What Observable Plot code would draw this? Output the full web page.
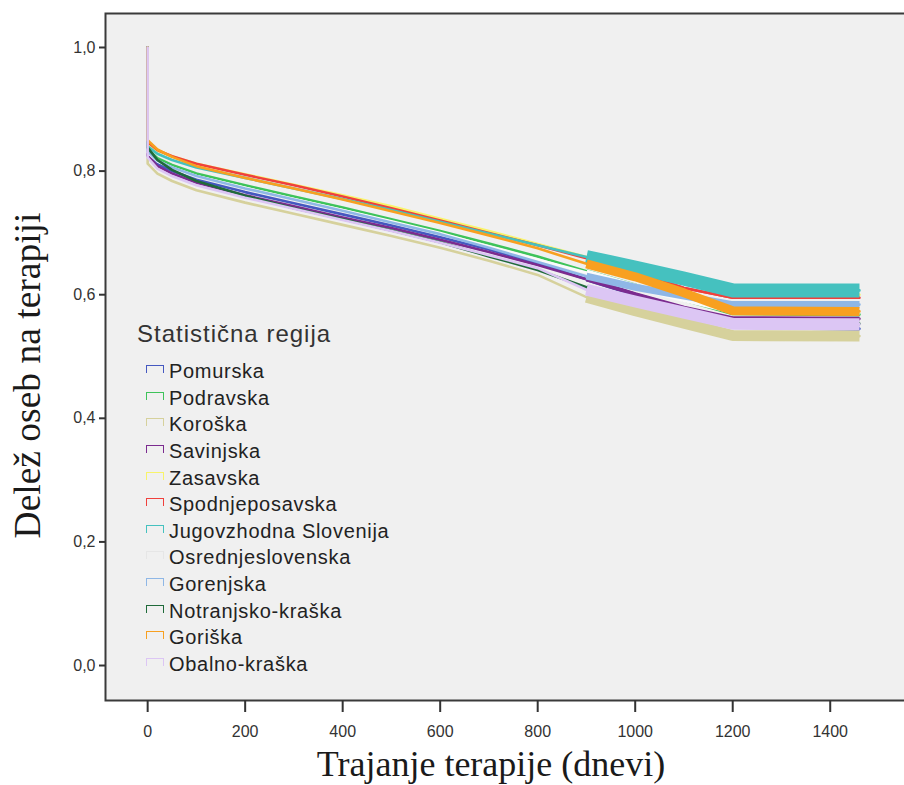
<!DOCTYPE html>
<html>
<head>
<meta charset="utf-8">
<script src="https://cdn.jsdelivr.net/npm/d3@7"></script>
<script src="https://cdn.jsdelivr.net/npm/@observablehq/plot@0.6"></script>
<style>
  html, body { margin: 0; padding: 0; background: #fff; overflow: hidden; }
  #chart { position: relative; width: 904px; height: 785px; }
  #chart svg { overflow: hidden; display: block; }
  #legend { position: absolute; left: 137px; top: 321px; font-family: "Liberation Sans", Arial, sans-serif; color: #222; }
  #legend .title { font-size: 24px; letter-spacing: 1px; line-height: 26px; margin-bottom: 11.5px; color: #333; }
  #legend .item { display: flex; align-items: center; height: 26.6px; font-size: 20px; letter-spacing: 0.7px; padding-left: 9px; }
  #legend .sw { width: 18px; height: 8px; box-sizing: border-box; border: 1.5px solid; border-bottom: none; margin-right: 5px; margin-top: -5px; }
</style>
</head>
<body>
<div id="chart"></div>
<script>
// Time axis (days) at which each curve is sampled; the first two points form the drop at day 0.
const times = [0, 0, 20, 50, 100, 200, 300, 400, 500, 600, 700, 800, 900, 1000, 1100, 1200, 1460];

const regions = [
  "Pomurska", "Podravska", "Koroška", "Savinjska", "Zasavska", "Spodnjeposavska",
  "Jugovzhodna Slovenija", "Osrednjeslovenska", "Gorenjska", "Notranjsko-kraška",
  "Goriška", "Obalno-kraška"
];

// Share of persons still on therapy, per statistical region
const pomurska          = [1, 0.826, 0.811, 0.800, 0.786, 0.766, 0.748, 0.730, 0.712, 0.693, 0.673, 0.651, 0.625, 0.600, 0.573, 0.548, 0.545];
const podravska         = [1, 0.836, 0.821, 0.810, 0.796, 0.777, 0.759, 0.741, 0.722, 0.703, 0.683, 0.662, 0.638, 0.615, 0.592, 0.570, 0.568];
const koroska           = [1, 0.812, 0.796, 0.784, 0.769, 0.749, 0.731, 0.713, 0.695, 0.676, 0.655, 0.632, 0.596, 0.574, 0.554, 0.534, 0.533];
const savinjska         = [1, 0.825, 0.808, 0.796, 0.781, 0.761, 0.743, 0.725, 0.708, 0.689, 0.669, 0.648, 0.625, 0.601, 0.579, 0.562, 0.561];
const zasavska          = [1, 0.845, 0.833, 0.824, 0.812, 0.795, 0.778, 0.761, 0.743, 0.723, 0.703, 0.682, 0.661, 0.641, 0.620, 0.600, 0.600];
const spodnjeposavska   = [1, 0.847, 0.834, 0.824, 0.812, 0.794, 0.777, 0.759, 0.740, 0.720, 0.700, 0.680, 0.659, 0.637, 0.611, 0.595, 0.595];
const jugovzhodna       = [1, 0.840, 0.828, 0.818, 0.806, 0.789, 0.772, 0.755, 0.737, 0.718, 0.699, 0.680, 0.661, 0.644, 0.626, 0.607, 0.607];
const osrednjeslovenska = [1, 0.830, 0.816, 0.806, 0.792, 0.773, 0.755, 0.737, 0.719, 0.700, 0.678, 0.657, 0.636, 0.613, 0.593, 0.574, 0.572];
const gorenjska         = [1, 0.832, 0.817, 0.806, 0.792, 0.772, 0.754, 0.736, 0.717, 0.698, 0.676, 0.653, 0.630, 0.612, 0.598, 0.584, 0.584];
const notranjsko        = [1, 0.838, 0.818, 0.802, 0.784, 0.760, 0.740, 0.722, 0.704, 0.685, 0.662, 0.640, 0.612, 0.586, 0.566, 0.553, 0.553];
const goriska           = [1, 0.850, 0.835, 0.823, 0.808, 0.789, 0.772, 0.754, 0.735, 0.716, 0.696, 0.675, 0.650, 0.629, 0.603, 0.574, 0.573];
const obalno            = [1, 0.822, 0.804, 0.792, 0.777, 0.757, 0.739, 0.721, 0.703, 0.684, 0.664, 0.643, 0.608, 0.589, 0.571, 0.553, 0.552];

const seriesValues = [pomurska, podravska, koroska, savinjska, zasavska, spodnjeposavska,
  jugovzhodna, osrednjeslovenska, gorenjska, notranjsko, goriska, obalno];

const xTicks = [0, 200, 400, 600, 800, 1000, 1200, 1400];
const yTicks = [0, 0.2, 0.4, 0.6, 0.8, 1.0];

const colors = ["#4558c0", "#3ec35a", "#d6d19c", "#7b2b8f", "#f8f46a", "#f0403c",
  "#45c1bf", "#fafafa", "#8fb7e6", "#1f6a3a", "#f8a020", "#dcc6f4"];

// Thickness of the dense censoring marks that pile up late in follow-up
const censorBand = {
  "Pomurska": 4, "Podravska": 4, "Koroška": 11, "Savinjska": 4, "Zasavska": 2.5,
  "Spodnjeposavska": 2.5, "Jugovzhodna Slovenija": 14, "Osrednjeslovenska": 6,
  "Gorenjska": 7, "Notranjsko-kraška": 4, "Goriška": 9, "Obalno-kraška": 12
};
const censorFrom = 900;

const rows = regions.flatMap((region, i) =>
  seriesValues[i].map((s, j) => ({region, t: times[j], s})));

const curveMarks = regions.flatMap(region => {
  const rs = rows.filter(d => d.region === region);
  return [
    Plot.line(rs, {x: "t", y: "s", stroke: "region", strokeWidth: 2.6}),
    Plot.line(rs.filter(d => d.t >= censorFrom), {
      x: "t", y: "s", stroke: "region",
      strokeWidth: censorBand[region], strokeLinecap: "butt", strokeLinejoin: "round"
    })
  ];
});

const serif = "'Liberation Serif', 'Times New Roman', serif";

const chart = Plot.plot({
  width: 904,
  height: 785,
  marginLeft: 105,
  marginRight: -3,
  marginTop: 13,
  marginBottom: 85,
  style: {background: "#fff", fontFamily: "'Liberation Sans', Arial, sans-serif"},
  x: {domain: [-86.47, 1558.5]},
  y: {domain: [-0.0566, 1.055]},
  color: {domain: regions, range: colors},
  marks: [
    Plot.frame({fill: "#f0f0f0", stroke: "#3a3a3a", strokeWidth: 2}),
    Plot.axisY(yTicks, {
      anchor: "left", tickSize: 6, tickPadding: 4, fontSize: 16, color: "#333",
      strokeWidth: 2, label: null, tickFormat: d => d.toFixed(1).replace(".", ",")
    }),
    Plot.axisX(xTicks, {
      anchor: "bottom", tickSize: 12, tickPadding: 13, fontSize: 16, color: "#333",
      strokeWidth: 2, label: null, tickFormat: d => String(d)
    }),
    ...curveMarks,
    Plot.text(["Delež oseb na terapiji"], {
      text: d => d, frameAnchor: "left", textAnchor: "middle", lineAnchor: "middle", rotate: -90,
      dx: -78, dy: 18.5, fontSize: 37.5, fontFamily: serif, fill: "#1a1a1a"
    }),
    Plot.text(["Trajanje terapije (dnevi)"], {
      text: d => d, frameAnchor: "bottom", textAnchor: "middle", lineAnchor: "middle",
      dx: -15.5, dy: 63.5, fontSize: 36, fontFamily: serif, fill: "#1a1a1a"
    })
  ]
});

const host = document.getElementById("chart");
host.appendChild(chart);

// Legend drawn over the plotting area
const legend = document.createElement("div");
legend.id = "legend";
const title = document.createElement("div");
title.className = "title";
title.textContent = "Statistična regija";
legend.appendChild(title);
regions.forEach((r, i) => {
  const item = document.createElement("div");
  item.className = "item";
  const sw = document.createElement("span");
  sw.className = "sw";
  sw.style.borderColor = colors[i] === "#fafafa" ? "#e6e6e6" : colors[i];
  const label = document.createElement("span");
  label.textContent = r;
  item.appendChild(sw);
  item.appendChild(label);
  legend.appendChild(item);
});
host.appendChild(legend);
</script>
</body>
</html>
